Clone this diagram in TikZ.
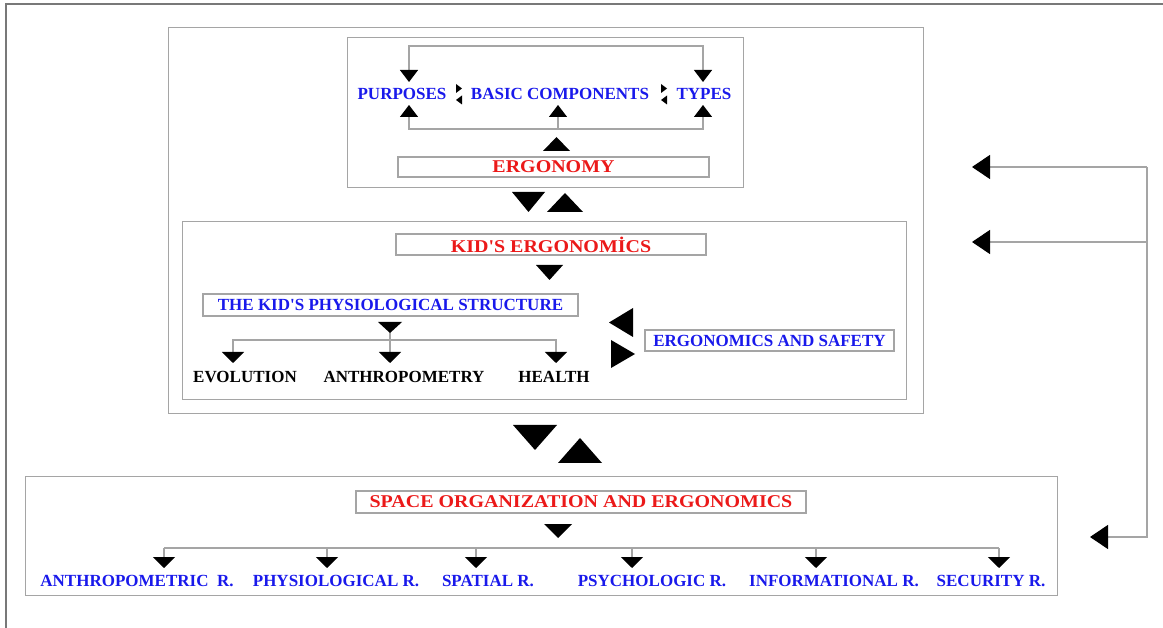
\documentclass[tikz,border=0pt]{standalone}
\usepackage{graphicx}
\usepackage{fontspec}
\setmainfont{Liberation Serif}
\usetikzlibrary{arrows.meta}

\definecolor{lbl}{RGB}{25,25,235}
\definecolor{hdr}{RGB}{235,25,25}
\definecolor{rulegray}{RGB}{165,165,165}
\definecolor{edgegray}{RGB}{120,120,120}

% wide red headings
\newcommand\wideheading[1]{\scalebox{1.11}[1]{#1}}
\newcommand\apos{\textquotesingle}
% solid triangles: centre x, base y, width, height
\newcommand\tridn[4]{\fill (#1-#3/2,#2) -- (#1+#3/2,#2) -- (#1,#2+#4) -- cycle;}
\newcommand\triup[4]{\fill (#1-#3/2,#2) -- (#1+#3/2,#2) -- (#1,#2-#4) -- cycle;}
% solid triangles: base x, centre y, height, width
\newcommand\trilt[4]{\fill (#1,#2-#4/2) -- (#1,#2+#4/2) -- (#1-#3,#2) -- cycle;}
\newcommand\trirt[4]{\fill (#1,#2-#4/2) -- (#1,#2+#4/2) -- (#1+#3,#2) -- cycle;}

\begin{document}
\begin{tikzpicture}[x=1pt,y=-1pt,
  frame/.style={draw=rulegray,line width=1.3pt,inner sep=0pt},
  conn/.style={draw=rulegray,line width=1.2pt},
  tipA/.style={-{Triangle[length=12pt,width=18pt,color=black]}},
  tipAA/.style={{Triangle[length=12pt,width=18pt,color=black]}-{Triangle[length=12pt,width=18pt,color=black]}},
  tipB/.style={-{Triangle[length=11pt,width=22pt,color=black]}},
  tipC/.style={-{Triangle[length=18pt,width=24pt,color=black]}},
  bluetxt/.style={text=lbl,font=\fontsize{17}{20}\selectfont\bfseries,inner sep=0pt},
  blacktxt/.style={text=black,font=\fontsize{17}{20}\selectfont\bfseries,inner sep=0pt},
  redbox/.style={frame,text=hdr,font=\fontsize{18}{20}\selectfont\bfseries},
  bluebox/.style={frame,text=lbl,font=\fontsize{17}{20}\selectfont\bfseries}
]
\useasboundingbox (0,0) rectangle (1163,628);

% page edge
\draw[edgegray,line width=1.2pt] (1163,4) -- (6,4) -- (6,628);

% group frames
\node[frame,anchor=north west,minimum width=755pt,minimum height=386pt] (outerA) at (168,27) {};
\node[frame,anchor=north west,minimum width=396pt,minimum height=150pt] (ergogrp) at (347,37) {};
\node[frame,anchor=north west,minimum width=724pt,minimum height=178pt] (kidgrp) at (182,221) {};
\node[frame,anchor=north west,minimum width=1032pt,minimum height=119pt] (spacegrp) at (25,476) {};

% ---- ergonomy group ----
\node[redbox,minimum width=311pt,minimum height=20pt] (ergo) at (553.5,167) {\wideheading{ERGONOMY}};
\node[bluetxt] (purp) at (402,94) {PURPOSES};
\node[bluetxt] (basic) at (560,94) {BASIC COMPONENTS};
\node[bluetxt] (types) at (704,94) {TYPES};

\coordinate (pt) at (409,82);
\coordinate (tt) at (703,82);
\coordinate (pb) at (409,105);
\coordinate (bb) at (558,105);
\coordinate (tb) at (703,105);
\draw[conn,tipAA] (pt) -- (409,46) -- (703,46) -- (tt);
\draw[conn,tipAA] (pb) -- (409,129) -- (703,129) -- (tb);
\draw[conn,tipA] (558,129) -- (bb);
\triup{556.5}{151}{27}{14}

% paired small heads between the labels
\trirt{456}{88.5}{6}{9}
\trilt{462}{100}{6}{9}
\trirt{661}{88.5}{6}{9}
\trilt{667}{100}{6}{9}

% between ergonomy and kids groups
\tridn{528.5}{192}{33}{20}
\triup{565}{212}{36}{19}

% ---- kid's group ----
\node[redbox,minimum width=310pt,minimum height=21pt] (kids) at (551,244.5) {\wideheading{KID\apos S ERGONOMİCS}};
\tridn{549.5}{265}{27}{15}
\node[bluebox,minimum width=375pt,minimum height=22pt] (physio) at (390.5,305) {THE KID\apos S PHYSIOLOGICAL STRUCTURE};
\tridn{390}{322}{24}{11}
\node[blacktxt] (evo) at (245,377) {EVOLUTION};
\node[blacktxt] (anthro) at (404,377) {ANTHROPOMETRY};
\node[blacktxt] (health) at (554,377) {HEALTH};
\coordinate (evoT) at (233,363);
\coordinate (anthroT) at (390,363);
\coordinate (healthT) at (556,363);
\draw[conn] (390,333) -- (390,340);
\draw[conn,tipB] (390,340) -- (233,340) -- (evoT);
\draw[conn,tipB] (390,340) -- (anthroT);
\draw[conn,tipB] (390,340) -- (556,340) -- (healthT);

\node[bluebox,minimum width=249pt,minimum height=21pt] (safety) at (769.5,340.5) {ERGONOMICS AND SAFETY};
\trilt{633}{322.5}{24}{29}
\trirt{611}{354}{24}{28}

% between group A and the space group
\tridn{535}{425}{44}{25}
\triup{580}{463}{44}{25}

% ---- space group ----
\node[redbox,minimum width=450pt,minimum height=22pt] (space) at (581,502) {\wideheading{SPACE ORGANIZATION AND ERGONOMICS}};
\tridn{558}{524}{28}{14}
\node[bluetxt] (r1) at (137,581) {ANTHROPOMETRIC\ \ R.};
\node[bluetxt] (r2) at (336,581) {PHYSIOLOGICAL R.};
\node[bluetxt] (r3) at (488,581) {SPATIAL R.};
\node[bluetxt] (r4) at (652,581) {PSYCHOLOGIC R.};
\node[bluetxt] (r5) at (834,581) {INFORMATIONAL R.};
\node[bluetxt] (r6) at (991,581) {SECURITY R.};
\coordinate (r1T) at (164,568);
\coordinate (r2T) at (327,568);
\coordinate (r3T) at (476,568);
\coordinate (r4T) at (632,568);
\coordinate (r5T) at (816,568);
\coordinate (r6T) at (999,568);
\draw[conn] (164,548) -- (999,548);
\foreach \t/\x in {r1T/164,r2T/327,r3T/476,r4T/632,r5T/816,r6T/999}
  \draw[conn,tipB] (\x,548) -- (\t);

% ---- feedback bus on the right ----
\coordinate (fb1) at (972,167);
\coordinate (fb2) at (972,242);
\coordinate (fb3) at (1090,537);
\draw[conn,tipC] (1147,167) -- (fb1);
\draw[conn,tipC] (1147,242) -- (fb2);
\draw[conn,tipC] (1147,167) -- (1147,537) -- (fb3);
\end{tikzpicture}
\end{document}
